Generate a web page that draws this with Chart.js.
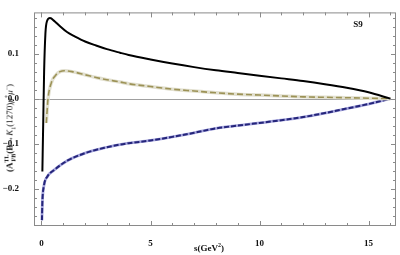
<!DOCTYPE html>
<html>
<head>
<meta charset="utf-8">
<script src="https://cdn.jsdelivr.net/npm/chart.js@4.4.1/dist/chart.umd.min.js"></script>
<style>
  html, body { margin: 0; padding: 0; background: #fff; }
  #wrap { width: 400px; height: 255px; position: relative; }
  .lbl { position: absolute; font-family: "Liberation Serif", "DejaVu Serif", serif;
         font-size: 9px; font-weight: bold; color: #111; white-space: nowrap; line-height: 1; }
  .lbl sup, .lbl sub { font-size: 6px; line-height: 0; }
  #ytitle { left: 10px; top: 128px; transform: translate(-50%, -50%) rotate(-90deg); }
  #xtitle { left: 209px; top: 248px; transform: translate(-50%, -50%); }
  .n { font-weight: normal; }
  .i { font-style: italic; font-weight: normal; }
</style>
</head>
<body>
<div id="wrap">
  <canvas id="c"></canvas>
  <div id="xtitle" class="lbl">s(GeV<sup>2</sup>)</div>
  <div id="ytitle" class="lbl">(A<sup>TL</sup><sub style="margin-left:-7px">FB</sub>(B&rarr;<span class="i">K</span><sub class="n">1</sub><span class="n">(1270)</span><span class="i">&mu;</span><sup class="n">+</sup><span class="i">&mu;</span><sup class="n">&minus;</sup><span class="n">)</span></div>
</div>
<script>
// Values
const sBlack = [0.04, 0.08, 0.12, 0.18, 0.25, 0.39, 0.6, 0.8, 1.17, 1.54, 2.0, 2.5, 3.0, 3.6, 4.0, 5.0, 6.0, 7.0, 8.0, 9.0, 10.0, 11.0, 12.0, 13.0, 14.0, 15.0, 16.0];
const aBlack = [-0.162, -0.05, 0.06, 0.145, 0.172, 0.179, 0.172, 0.163, 0.148, 0.138, 0.127, 0.118, 0.110, 0.102, 0.097, 0.087, 0.078, 0.070, 0.063, 0.057, 0.051, 0.045, 0.039, 0.032, 0.024, 0.014, 0.0];

const sOlive = [0.22, 0.3, 0.45, 0.65, 0.85, 1.05, 1.4, 2.0, 2.5, 3.0, 3.6, 4.0, 5.0, 6.0, 7.0, 8.0, 9.0, 10.0, 11.0, 12.0, 13.0, 14.0, 15.0, 16.0];
const aOlive = [-0.054, 0.0, 0.035, 0.052, 0.06, 0.062, 0.06, 0.053, 0.047, 0.042, 0.037, 0.033, 0.027, 0.021, 0.017, 0.013, 0.010, 0.008, 0.006, 0.004, 0.003, 0.002, 0.001, 0.0];

const sBlue = [0.02, 0.04, 0.11, 0.27, 0.57, 1.18, 2.0, 3.0, 3.6, 4.0, 5.0, 6.0, 7.0, 8.0, 9.0, 10.0, 11.0, 12.0, 13.0, 14.0, 15.0, 16.0];
const aBlue = [-0.27, -0.23, -0.194, -0.173, -0.159, -0.138, -0.121, -0.108, -0.102, -0.099, -0.093, -0.085, -0.076, -0.066, -0.060, -0.054, -0.048, -0.041, -0.032, -0.022, -0.012, 0.0];

const xTicks = [0, 5, 10, 15];
const yTicks = [-0.2, -0.1, 0.0, 0.1];
const panelLabel = 'S9';

const serif = '"Liberation Serif", "DejaVu Serif", serif';

function pts(xs, ys) {
    return xs.map((x, i) => ({ x: x, y: ys[i] }));
}

// Frame, inward ticks, zero line, panel label
const framePlugin = {
    id: 'frame',
    beforeDatasetsDraw(chart) {
        const { ctx, chartArea: a, scales } = chart;
        const y0 = Math.round(scales.y.getPixelForValue(0)) + 0.5;
        ctx.save();
        ctx.strokeStyle = '#a0a0a0';
        ctx.lineWidth = 1;
        ctx.beginPath();
        ctx.moveTo(a.left, y0);
        ctx.lineTo(a.right, y0);
        ctx.stroke();
        ctx.restore();
    },
    afterDraw(chart) {
        const { ctx, chartArea: a, scales } = chart;
        const xs = scales.x, ys = scales.y;
        ctx.save();
        ctx.strokeStyle = '#8a8a8a';
        ctx.lineWidth = 1;
        ctx.strokeRect(a.left + 0.5, a.top + 0.5, a.right - a.left - 1, a.bottom - a.top - 1);

        ctx.beginPath();
        for (let v = 0; v <= 16; v += 1) {
            const px = Math.round(xs.getPixelForValue(v)) + 0.5;
            const len = v % 5 === 0 ? 5 : 3;
            ctx.moveTo(px, a.bottom);
            ctx.lineTo(px, a.bottom - len);
            ctx.moveTo(px, a.top);
            ctx.lineTo(px, a.top + len);
        }
        for (let k = -14; k <= 9; k++) {
            const v = k * 0.02;
            const py = Math.round(ys.getPixelForValue(v)) + 0.5;
            if (py < a.top || py > a.bottom) continue;
            const len = k % 5 === 0 ? 5 : 3;
            ctx.moveTo(a.left, py);
            ctx.lineTo(a.left + len, py);
            ctx.moveTo(a.right, py);
            ctx.lineTo(a.right - len, py);
        }
        ctx.stroke();

        ctx.fillStyle = '#111';
        ctx.font = 'bold 9px ' + serif;
        ctx.textAlign = 'center';
        ctx.textBaseline = 'middle';
        ctx.fillText(panelLabel, 358, 25);
        ctx.restore();
    }
};

new Chart(document.getElementById('c'), {
    type: 'line',
    data: {
        datasets: [
            {
                data: pts(sBlack, aBlack),
                borderColor: '#000',
                borderWidth: 2,
                pointRadius: 0,
                cubicInterpolationMode: 'monotone'
            },
            {
                data: pts(sOlive, aOlive),
                borderColor: '#9c9256',
                borderWidth: 1.6,
                borderDash: [6, 3],
                pointRadius: 0,
                cubicInterpolationMode: 'monotone'
            },
            {
                data: pts(sOlive, aOlive),
                borderColor: '#e2e0d0',
                borderWidth: 3.5,
                pointRadius: 0,
                cubicInterpolationMode: 'monotone'
            },
            {
                data: pts(sBlue, aBlue),
                borderColor: '#25257a',
                borderWidth: 2,
                borderDash: [5, 2],
                pointRadius: 0,
                cubicInterpolationMode: 'monotone'
            },
            {
                data: pts(sBlue, aBlue),
                borderColor: '#a4a4dc',
                borderWidth: 2.8,
                pointRadius: 0,
                cubicInterpolationMode: 'monotone'
            }
        ]
    },
    options: {
        responsive: true,
        maintainAspectRatio: false,
        animation: false,
        layout: { padding: { top: 0, right: 4, left: 0, bottom: 0 } },
        plugins: {
            legend: { display: false },
            tooltip: { enabled: false }
        },
        scales: {
            x: {
                type: 'linear',
                min: -0.344,
                max: 16.26,
                grid: { display: false },
                border: { display: false },
                afterFit: function (scale) { scale.height = 29; },
                afterBuildTicks: function (scale) {
                    scale.ticks = xTicks.map(v => ({ value: v }));
                },
                ticks: {
                    color: '#111',
                    padding: 4,
                    maxRotation: 0,
                    font: { family: serif, size: 9, weight: 'bold' },
                    callback: function (value) { return String(value); }
                }
            },
            y: {
                type: 'linear',
                min: -0.283,
                max: 0.1916,
                grid: { display: false },
                border: { display: false },
                afterFit: function (scale) { scale.width = 34; },
                afterBuildTicks: function (scale) {
                    scale.ticks = yTicks.map(v => ({ value: v }));
                },
                ticks: {
                    color: '#111',
                    padding: 7,
                    font: { family: serif, size: 9, weight: 'bold' },
                    callback: function (value) {
                        const s = Math.abs(value).toFixed(1);
                        return value < -1e-9 ? '\u2212' + s : s;
                    }
                }
            }
        }
    },
    plugins: [framePlugin]
});
</script>
</body>
</html>
